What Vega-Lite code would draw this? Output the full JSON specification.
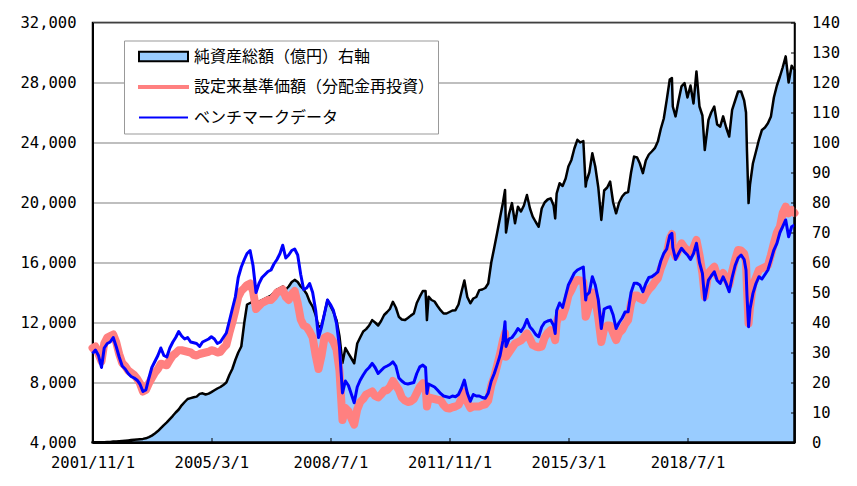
{
  "$schema": "https://vega.github.io/schema/vega-lite/v6.json",
  "width": 702,
  "height": 420,
  "autosize": {"type": "none"},
  "padding": {"left": 92.5, "top": 22.5, "right": 62.5, "bottom": 43.5},
  "background": "white",
  "config": {
    "view": {"stroke": "#000000", "strokeWidth": 1.5},
    "axis": {"labelFont": "DejaVu Sans Mono", "labelFontSize": 15.5, "labelColor": "#000000", "domainColor": "#000000", "tickColor": "#000000", "title": null},
    "legend": {
      "orient": "none",
      "legendX": 31.5,
      "legendY": 18,
      "fillColor": "#FFFFFF",
      "strokeColor": "#999999",
      "padding": 3,
      "symbolOffset": 11,
      "clipHeight": 26,
      "rowPadding": 4.5,
      "labelFont": "Noto Sans CJK JP",
      "labelFontSize": 16,
      "labelColor": "#000000",
      "labelOffset": 5,
      "labelLimit": 400,
      "symbolSize": 2401
    }
  },
  "data": {"values": [
    {"d":"2001/11/01","a":0.1,"n":10300,"b":9940},
    {"d":"2001/12/01","a":0.1,"n":10400,"b":10160},
    {"d":"2002/01/01","a":0.1,"n":9900,"b":9800},
    {"d":"2002/02/01","a":0.1,"n":9400,"b":9000},
    {"d":"2002/03/01","a":0.1,"n":10600,"b":10300},
    {"d":"2002/04/01","a":0.2,"n":11000,"b":10600},
    {"d":"2002/05/01","a":0.2,"n":11100,"b":10700},
    {"d":"2002/06/01","a":0.3,"n":11200,"b":11000},
    {"d":"2002/07/01","a":0.3,"n":10700,"b":10400},
    {"d":"2002/08/01","a":0.4,"n":9900,"b":9700},
    {"d":"2002/09/01","a":0.5,"n":9300,"b":9100},
    {"d":"2002/10/01","a":0.6,"n":9100,"b":8900},
    {"d":"2002/11/01","a":0.7,"n":8800,"b":8600},
    {"d":"2002/12/01","a":0.8,"n":8650,"b":8400},
    {"d":"2003/01/01","a":0.9,"n":8500,"b":8300},
    {"d":"2003/02/01","a":1.0,"n":8250,"b":8150},
    {"d":"2003/03/01","a":1.1,"n":7950,"b":7900},
    {"d":"2003/04/01","a":1.2,"n":7400,"b":7400},
    {"d":"2003/05/01","a":1.4,"n":7500,"b":7500},
    {"d":"2003/06/01","a":1.8,"n":7950,"b":8300},
    {"d":"2003/07/01","a":2.3,"n":8300,"b":9000},
    {"d":"2003/08/01","a":3.0,"n":8650,"b":9400},
    {"d":"2003/09/01","a":3.8,"n":8900,"b":9800},
    {"d":"2003/10/01","a":4.8,"n":9250,"b":10300},
    {"d":"2003/11/01","a":5.8,"n":9200,"b":9800},
    {"d":"2003/12/01","a":6.7,"n":9150,"b":9700},
    {"d":"2004/01/01","a":7.8,"n":9500,"b":10300},
    {"d":"2004/02/01","a":8.9,"n":9800,"b":10700},
    {"d":"2004/03/01","a":10.0,"n":9950,"b":11000},
    {"d":"2004/04/01","a":11.0,"n":10150,"b":11400},
    {"d":"2004/05/01","a":12.4,"n":10150,"b":11100},
    {"d":"2004/06/01","a":13.5,"n":10100,"b":10900},
    {"d":"2004/07/01","a":14.5,"n":10050,"b":11000},
    {"d":"2004/08/01","a":14.8,"n":10000,"b":10700},
    {"d":"2004/09/01","a":15.1,"n":9850,"b":10650},
    {"d":"2004/10/01","a":15.3,"n":9800,"b":10600},
    {"d":"2004/11/01","a":16.2,"n":9900,"b":10400},
    {"d":"2004/12/01","a":16.4,"n":9950,"b":10700},
    {"d":"2005/01/01","a":16.0,"n":10000,"b":10800},
    {"d":"2005/02/01","a":16.3,"n":10050,"b":10900},
    {"d":"2005/03/01","a":16.8,"n":10150,"b":11050},
    {"d":"2005/04/01","a":17.4,"n":10100,"b":10900},
    {"d":"2005/05/01","a":18.0,"n":10000,"b":10600},
    {"d":"2005/06/01","a":18.5,"n":10050,"b":10700},
    {"d":"2005/07/01","a":19.2,"n":10300,"b":11000},
    {"d":"2005/08/01","a":20.0,"n":10500,"b":11300},
    {"d":"2005/09/01","a":22.5,"n":11300,"b":12100},
    {"d":"2005/10/01","a":24.5,"n":12000,"b":12900},
    {"d":"2005/11/01","a":27.5,"n":12800,"b":13700},
    {"d":"2005/12/01","a":30.0,"n":13700,"b":15000},
    {"d":"2006/01/01","a":32.0,"n":14100,"b":15700},
    {"d":"2006/02/01","a":40.0,"n":14300,"b":16200},
    {"d":"2006/03/01","a":46.0,"n":14500,"b":16600},
    {"d":"2006/04/01","a":46.5,"n":14600,"b":16800},
    {"d":"2006/05/01","a":47.0,"n":14100,"b":15800},
    {"d":"2006/06/01","a":46.0,"n":12900,"b":14000},
    {"d":"2006/07/01","a":47.0,"n":13100,"b":14600},
    {"d":"2006/08/01","a":47.5,"n":13300,"b":15000},
    {"d":"2006/09/01","a":48.0,"n":13400,"b":15200},
    {"d":"2006/10/01","a":48.5,"n":13500,"b":15400},
    {"d":"2006/11/01","a":49.0,"n":13500,"b":15500},
    {"d":"2006/12/01","a":50.0,"n":13700,"b":15900},
    {"d":"2007/01/01","a":51.0,"n":14000,"b":16200},
    {"d":"2007/02/01","a":51.5,"n":14100,"b":16600},
    {"d":"2007/03/01","a":52.0,"n":14200,"b":17150},
    {"d":"2007/04/01","a":51.0,"n":13700,"b":16300},
    {"d":"2007/05/01","a":52.0,"n":13500,"b":16500},
    {"d":"2007/06/01","a":53.5,"n":13900,"b":16800},
    {"d":"2007/07/01","a":54.2,"n":14100,"b":16900},
    {"d":"2007/08/01","a":53.5,"n":13300,"b":16500},
    {"d":"2007/09/01","a":52.0,"n":12200,"b":15200},
    {"d":"2007/10/01","a":51.0,"n":11800,"b":14200},
    {"d":"2007/11/01","a":49.5,"n":11700,"b":14300},
    {"d":"2007/12/01","a":47.0,"n":11400,"b":14600},
    {"d":"2008/01/01","a":45.3,"n":11000,"b":14000},
    {"d":"2008/02/01","a":42.5,"n":9800,"b":12800},
    {"d":"2008/03/01","a":38.5,"n":8900,"b":11000},
    {"d":"2008/04/01","a":39.0,"n":9800,"b":11700},
    {"d":"2008/05/01","a":43.0,"n":11000,"b":12600},
    {"d":"2008/06/01","a":47.5,"n":11100,"b":13500},
    {"d":"2008/07/01","a":45.5,"n":11000,"b":13200},
    {"d":"2008/08/01","a":43.5,"n":10700,"b":12800},
    {"d":"2008/09/01","a":40.8,"n":10200,"b":11940},
    {"d":"2008/10/01","a":35.5,"n":8800,"b":10400},
    {"d":"2008/11/01","a":26.5,"n":5500,"b":7300},
    {"d":"2008/12/01","a":31.5,"n":6300,"b":8100},
    {"d":"2009/01/01","a":29.7,"n":6100,"b":7800},
    {"d":"2009/02/01","a":28.0,"n":5600,"b":7200},
    {"d":"2009/03/01","a":26.4,"n":5200,"b":6650},
    {"d":"2009/04/01","a":33.0,"n":6200,"b":7700},
    {"d":"2009/05/01","a":35.0,"n":6700,"b":8150},
    {"d":"2009/06/01","a":37.0,"n":6900,"b":8500},
    {"d":"2009/07/01","a":37.8,"n":7200,"b":8800},
    {"d":"2009/08/01","a":39.0,"n":7300,"b":9000},
    {"d":"2009/09/01","a":40.8,"n":7400,"b":9270},
    {"d":"2009/10/01","a":40.0,"n":7100,"b":9000},
    {"d":"2009/11/01","a":39.0,"n":7000,"b":8600},
    {"d":"2009/12/01","a":40.5,"n":7200,"b":8800},
    {"d":"2010/01/01","a":42.5,"n":7450,"b":9000},
    {"d":"2010/02/01","a":43.5,"n":7500,"b":9100},
    {"d":"2010/03/01","a":44.5,"n":7700,"b":9200},
    {"d":"2010/04/01","a":46.9,"n":8100,"b":9380},
    {"d":"2010/05/01","a":45.0,"n":7800,"b":9100},
    {"d":"2010/06/01","a":41.9,"n":7500,"b":8300},
    {"d":"2010/07/01","a":41.0,"n":7000,"b":8100},
    {"d":"2010/08/01","a":40.8,"n":6800,"b":7940},
    {"d":"2010/09/01","a":41.5,"n":6700,"b":7900},
    {"d":"2010/10/01","a":42.3,"n":6750,"b":7950},
    {"d":"2010/11/01","a":43.0,"n":6900,"b":8000},
    {"d":"2010/12/01","a":46.5,"n":7300,"b":8600},
    {"d":"2011/01/01","a":48.6,"n":7710,"b":9045},
    {"d":"2011/02/01","a":50.5,"n":7950,"b":9160},
    {"d":"2011/03/01","a":50.5,"n":7800,"b":9000},
    {"d":"2011/03/15","a":40.8,"n":6400,"b":7270},
    {"d":"2011/04/01","a":48.6,"n":7000,"b":7900},
    {"d":"2011/05/01","a":47.5,"n":6950,"b":7800},
    {"d":"2011/06/01","a":47.0,"n":6900,"b":7700},
    {"d":"2011/07/01","a":45.5,"n":6850,"b":7500},
    {"d":"2011/08/01","a":44.1,"n":6820,"b":7270},
    {"d":"2011/09/01","a":43.0,"n":6500,"b":7100},
    {"d":"2011/10/01","a":43.0,"n":6300,"b":7050},
    {"d":"2011/11/01","a":43.5,"n":6270,"b":7000},
    {"d":"2011/12/01","a":44.0,"n":6350,"b":7100},
    {"d":"2012/01/01","a":44.1,"n":6400,"b":7050},
    {"d":"2012/02/01","a":46.0,"n":6500,"b":7200},
    {"d":"2012/03/01","a":50.0,"n":6900,"b":7600},
    {"d":"2012/04/01","a":54.0,"n":7380,"b":8160},
    {"d":"2012/05/01","a":48.5,"n":6700,"b":7300},
    {"d":"2012/06/01","a":46.4,"n":6300,"b":6750},
    {"d":"2012/07/01","a":48.0,"n":6400,"b":7200},
    {"d":"2012/08/01","a":48.5,"n":6400,"b":7100},
    {"d":"2012/09/01","a":50.8,"n":6400,"b":7100},
    {"d":"2012/10/01","a":51.0,"n":6500,"b":7000},
    {"d":"2012/11/01","a":51.5,"n":6550,"b":6950},
    {"d":"2012/12/01","a":53.0,"n":6800,"b":7300},
    {"d":"2013/01/01","a":60.0,"n":7800,"b":8100},
    {"d":"2013/02/01","a":65.0,"n":8400,"b":8600},
    {"d":"2013/03/01","a":69.7,"n":9100,"b":9160},
    {"d":"2013/04/01","a":75.0,"n":9900,"b":9800},
    {"d":"2013/05/01","a":80.0,"n":10830,"b":10800},
    {"d":"2013/05/22","a":84.2,"n":11300,"b":12050},
    {"d":"2013/06/01","a":70.0,"n":9712,"b":10400},
    {"d":"2013/07/01","a":76.0,"n":10000,"b":10900},
    {"d":"2013/08/01","a":79.8,"n":10300,"b":11000},
    {"d":"2013/09/01","a":73.1,"n":10600,"b":11270},
    {"d":"2013/10/01","a":78.6,"n":10700,"b":11600},
    {"d":"2013/11/01","a":77.0,"n":10800,"b":11400},
    {"d":"2013/12/01","a":79.0,"n":11000,"b":11700},
    {"d":"2014/01/01","a":82.5,"n":11270,"b":12200},
    {"d":"2014/02/01","a":78.0,"n":10900,"b":11700},
    {"d":"2014/03/01","a":75.3,"n":10500,"b":11500},
    {"d":"2014/04/01","a":73.5,"n":10400,"b":11200},
    {"d":"2014/05/01","a":71.9,"n":10350,"b":11050},
    {"d":"2014/06/01","a":78.0,"n":10400,"b":11700},
    {"d":"2014/07/01","a":80.0,"n":11000,"b":12000},
    {"d":"2014/08/01","a":81.0,"n":11300,"b":12100},
    {"d":"2014/09/01","a":81.4,"n":11490,"b":12160},
    {"d":"2014/10/01","a":79.0,"n":11200,"b":11800},
    {"d":"2014/10/17","a":74.7,"n":10830,"b":11270},
    {"d":"2014/11/01","a":83.0,"n":12000,"b":12800},
    {"d":"2014/12/01","a":86.4,"n":12610,"b":13300},
    {"d":"2015/01/01","a":85.5,"n":12400,"b":13000},
    {"d":"2015/02/01","a":88.0,"n":13000,"b":13800},
    {"d":"2015/03/01","a":92.0,"n":13800,"b":14500},
    {"d":"2015/04/01","a":94.2,"n":14160,"b":14900},
    {"d":"2015/05/01","a":98.0,"n":14600,"b":15300},
    {"d":"2015/06/01","a":100.9,"n":14840,"b":15500},
    {"d":"2015/07/01","a":100.0,"n":14800,"b":15600},
    {"d":"2015/08/01","a":100.5,"n":14700,"b":15700},
    {"d":"2015/08/25","a":85.3,"n":12380,"b":13500},
    {"d":"2015/09/01","a":87.0,"n":12500,"b":13800},
    {"d":"2015/10/01","a":90.0,"n":13200,"b":14000},
    {"d":"2015/11/01","a":96.4,"n":14000,"b":15050},
    {"d":"2015/12/01","a":92.0,"n":13600,"b":14500},
    {"d":"2016/01/01","a":85.0,"n":12300,"b":13500},
    {"d":"2016/02/01","a":74.2,"n":10700,"b":11600},
    {"d":"2016/03/01","a":84.0,"n":11600,"b":12900},
    {"d":"2016/04/01","a":85.0,"n":11800,"b":13000},
    {"d":"2016/05/01","a":87.0,"n":11800,"b":13050},
    {"d":"2016/06/01","a":80.0,"n":11300,"b":12500},
    {"d":"2016/07/01","a":76.4,"n":10830,"b":11600},
    {"d":"2016/08/01","a":80.0,"n":11300,"b":12000},
    {"d":"2016/09/01","a":82.0,"n":11500,"b":12300},
    {"d":"2016/10/01","a":83.1,"n":11900,"b":12700},
    {"d":"2016/11/01","a":83.5,"n":12160,"b":12720},
    {"d":"2016/12/01","a":90.0,"n":13300,"b":14000},
    {"d":"2017/01/01","a":95.3,"n":13800,"b":14610},
    {"d":"2017/02/01","a":95.0,"n":13800,"b":14610},
    {"d":"2017/03/01","a":93.0,"n":13600,"b":14500},
    {"d":"2017/04/01","a":89.8,"n":13500,"b":14050},
    {"d":"2017/05/01","a":94.0,"n":13900,"b":14600},
    {"d":"2017/06/01","a":96.0,"n":14200,"b":15000},
    {"d":"2017/07/01","a":97.0,"n":14400,"b":15050},
    {"d":"2017/08/01","a":98.1,"n":14700,"b":15200},
    {"d":"2017/09/01","a":100.3,"n":14940,"b":15380},
    {"d":"2017/10/01","a":104.5,"n":15600,"b":16100},
    {"d":"2017/11/01","a":108.0,"n":16100,"b":16610},
    {"d":"2017/12/01","a":114.2,"n":16600,"b":16900},
    {"d":"2018/01/01","a":121.0,"n":17600,"b":17800},
    {"d":"2018/01/23","a":121.5,"n":17900,"b":17950},
    {"d":"2018/02/01","a":112.0,"n":16900,"b":17000},
    {"d":"2018/03/01","a":108.7,"n":16400,"b":16200},
    {"d":"2018/04/01","a":114.0,"n":16800,"b":16600},
    {"d":"2018/05/01","a":118.7,"n":17280,"b":16945},
    {"d":"2018/06/01","a":119.8,"n":17000,"b":16700},
    {"d":"2018/07/01","a":115.0,"n":16800,"b":16500},
    {"d":"2018/08/01","a":119.0,"n":16700,"b":16200},
    {"d":"2018/09/01","a":113.0,"n":17000,"b":16600},
    {"d":"2018/10/01","a":123.7,"n":17500,"b":17280},
    {"d":"2018/11/01","a":112.0,"n":16500,"b":16000},
    {"d":"2018/12/01","a":109.0,"n":15280,"b":15280},
    {"d":"2018/12/25","a":97.5,"n":13720,"b":13500},
    {"d":"2019/02/01","a":107.5,"n":15300,"b":14830},
    {"d":"2019/03/01","a":110.0,"n":15500,"b":15100},
    {"d":"2019/04/01","a":112.0,"n":15717,"b":15380},
    {"d":"2019/05/01","a":106.0,"n":15100,"b":14800},
    {"d":"2019/06/01","a":105.3,"n":15000,"b":14610},
    {"d":"2019/07/01","a":108.7,"n":15300,"b":15050},
    {"d":"2019/08/01","a":105.0,"n":14900,"b":14600},
    {"d":"2019/09/01","a":102.0,"n":14500,"b":14050},
    {"d":"2019/10/01","a":110.9,"n":15400,"b":15000},
    {"d":"2019/11/01","a":114.0,"n":16200,"b":15800},
    {"d":"2019/12/01","a":117.0,"n":16832,"b":16300},
    {"d":"2020/01/01","a":117.0,"n":16800,"b":16500},
    {"d":"2020/02/01","a":114.0,"n":16600,"b":16200},
    {"d":"2020/02/20","a":110.0,"n":16000,"b":15500},
    {"d":"2020/03/01","a":97.0,"n":14200,"b":13800},
    {"d":"2020/03/17","a":79.8,"n":11941,"b":11714},
    {"d":"2020/04/01","a":86.0,"n":13000,"b":12900},
    {"d":"2020/05/01","a":93.1,"n":14500,"b":13943},
    {"d":"2020/06/01","a":97.0,"n":15000,"b":14600},
    {"d":"2020/07/01","a":100.9,"n":15500,"b":15050},
    {"d":"2020/08/01","a":104.2,"n":15600,"b":14900},
    {"d":"2020/09/01","a":105.0,"n":15700,"b":15200},
    {"d":"2020/10/01","a":106.4,"n":15800,"b":15498},
    {"d":"2020/11/01","a":108.7,"n":16500,"b":16165},
    {"d":"2020/12/01","a":115.0,"n":17280,"b":16832},
    {"d":"2021/01/01","a":119.0,"n":18000,"b":17280},
    {"d":"2021/02/01","a":122.0,"n":18386,"b":18000},
    {"d":"2021/03/01","a":125.0,"n":19300,"b":18386},
    {"d":"2021/04/01","a":128.7,"n":19725,"b":18834},
    {"d":"2021/05/01","a":120.0,"n":19281,"b":17720},
    {"d":"2021/06/01","a":125.6,"n":19500,"b":18386},
    {"d":"2021/06/30","a":124.2,"n":19300,"b":18500}
  ]},
  "layer": [
    {
      "layer": [
        {
          "mark": {"type": "area", "opacity": 1, "strokeWidth": 2.5, "strokeJoin": "round"},
          "encoding": {
            "x": {
              "field": "d", "type": "temporal",
              "scale": {"domain": [{"year": 2001, "month": 11, "date": 1}, {"year": 2021, "month": 6, "date": 30}]},
              "axis": {
                "values": [{"year": 2001, "month": 11, "date": 1}, {"year": 2005, "month": 3, "date": 1}, {"year": 2008, "month": 7, "date": 1}, {"year": 2011, "month": 11, "date": 1}, {"year": 2015, "month": 3, "date": 1}, {"year": 2018, "month": 7, "date": 1}],
                "format": "%Y/%-m/%-d",
                "grid": false,
                "tickSize": -5,
                "labelPadding": 17.5,
                "labelFlush": false,
                "labelOverlap": false,
                "domainWidth": 2,
                "zindex": 1
              }
            },
            "y": {
              "field": "a", "type": "quantitative",
              "scale": {"domain": [0, 140], "nice": false},
              "axis": {"orient": "right", "values": [0, 10, 20, 30, 40, 50, 60, 70, 80, 90, 100, 110, 120, 130, 140], "grid": false, "tickSize": -4, "labelPadding": 21, "domainWidth": 1.5, "zindex": 1}
            },
            "fill": {
              "datum": "純資産総額（億円）右軸", "type": "nominal",
              "scale": {"domain": ["純資産総額（億円）右軸", "設定来基準価額（分配金再投資）", "ベンチマークデータ"], "range": ["#99CCFF", "#FF8080", "#FFFFFF"]},
              "legend": {
                "title": null,
                "encode": {
                  "symbols": {
                    "update": {
                      "shape": {"signal": "datum.index === 0 ? 'M-1,-0.19H1V0.19H-1Z' : (datum.index === 1 ? 'M-1,-0.045H1V0.045H-1Z' : 'M-1,0H1')"},
                      "strokeWidth": {"value": 2},
                      "opacity": {"value": 1}
                    }
                  }
                }
              }
            },
            "stroke": {
              "datum": "純資産総額（億円）右軸", "type": "nominal",
              "scale": {"domain": ["純資産総額（億円）右軸", "設定来基準価額（分配金再投資）", "ベンチマークデータ"], "range": ["#000000", "#FF8080", "#0000FF"]},
              "legend": {
                "title": null,
                "encode": {
                  "symbols": {
                    "update": {
                      "shape": {"signal": "datum.index === 0 ? 'M-1,-0.19H1V0.19H-1Z' : (datum.index === 1 ? 'M-1,-0.045H1V0.045H-1Z' : 'M-1,0H1')"},
                      "strokeWidth": {"value": 2},
                      "opacity": {"value": 1}
                    }
                  }
                }
              }
            }
          }
        }
      ]
    },
    {
      "layer": [
        {
          "mark": {"type": "line", "strokeWidth": 8, "strokeJoin": "round", "strokeCap": "round"},
          "encoding": {
            "x": {"field": "d", "type": "temporal"},
            "y": {
              "field": "n", "type": "quantitative",
              "scale": {"domain": [4000, 32000], "nice": false, "zero": false},
              "axis": {"orient": "left", "values": [4000, 6000, 8000, 10000, 12000, 14000, 16000, 18000, 20000, 22000, 24000, 26000, 28000, 30000, 32000], "format": ",.0f", "grid": true, "gridColor": "#808080", "gridWidth": 1.2, "ticks": false, "labelPadding": 16.5, "domainWidth": 2}
            },
            "stroke": {"datum": "設定来基準価額（分配金再投資）", "type": "nominal",
              "legend": {
                "title": null,
                "encode": {
                  "symbols": {
                    "update": {
                      "shape": {"signal": "datum.index === 0 ? 'M-1,-0.19H1V0.19H-1Z' : (datum.index === 1 ? 'M-1,-0.045H1V0.045H-1Z' : 'M-1,0H1')"},
                      "strokeWidth": {"value": 2},
                      "opacity": {"value": 1}
                    }
                  }
                }
              }
            }
          }
        },
        {
          "mark": {"type": "line", "strokeWidth": 3, "strokeJoin": "round"},
          "encoding": {
            "x": {"field": "d", "type": "temporal"},
            "y": {"field": "b", "type": "quantitative"},
            "stroke": {"datum": "ベンチマークデータ", "type": "nominal",
              "legend": {
                "title": null,
                "encode": {
                  "symbols": {
                    "update": {
                      "shape": {"signal": "datum.index === 0 ? 'M-1,-0.19H1V0.19H-1Z' : (datum.index === 1 ? 'M-1,-0.045H1V0.045H-1Z' : 'M-1,0H1')"},
                      "strokeWidth": {"value": 2},
                      "opacity": {"value": 1}
                    }
                  }
                }
              }
            }
          }
        }
      ]
    }
  ],
  "resolve": {"scale": {"y": "independent"}}
}
